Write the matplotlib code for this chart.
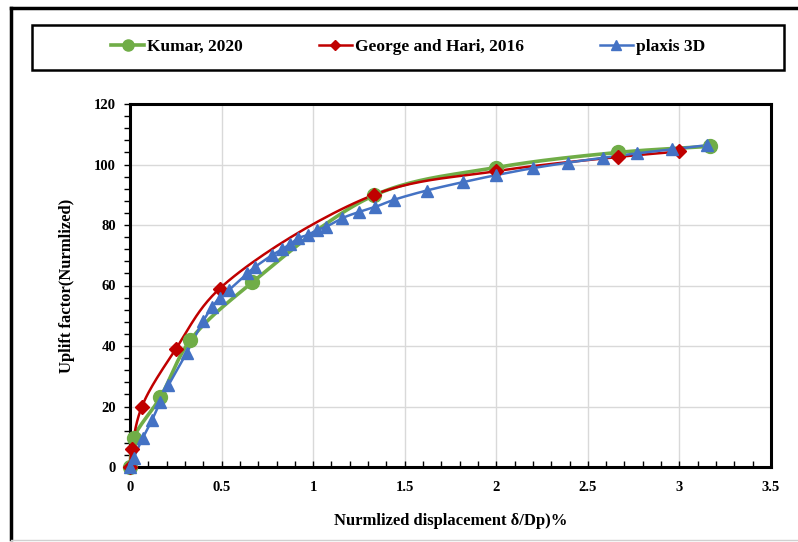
"""
Uplift factor against normalized displacement, three curves
"""

import numpy as np
import matplotlib.pyplot as plt
from matplotlib.lines import Line2D
from matplotlib.patches import Rectangle
from matplotlib.ticker import MultipleLocator

plt.rcParams['font.family'] = ['Liberation Serif', 'DejaVu Serif']
plt.rcParams['font.weight'] = 'bold'

# data
kumar_x = [0.0, 0.02, 0.165, 0.33, 0.667, 1.333, 2.0, 2.667, 3.165]
kumar_y = [0.0, 9.5, 23.0, 42.0, 61.0, 89.8, 99.0, 104.0, 106.0]

george_x = [0.0, 0.01, 0.065, 0.25, 0.49, 1.333, 2.0, 2.667, 3.0]
george_y = [0.0, 6.0, 20.0, 39.0, 59.0, 90.0, 97.8, 102.5, 104.3]

plaxis_x = [0.0, 0.02, 0.07, 0.12, 0.165, 0.21, 0.31, 0.40, 0.45, 0.49, 0.54,
            0.64, 0.68, 0.775, 0.83, 0.875, 0.92, 0.97, 1.02, 1.07, 1.16,
            1.25, 1.34, 1.44, 1.62, 1.82, 2.0, 2.2, 2.39, 2.58, 2.77, 2.96, 3.15]
plaxis_y = [0.0, 3.0, 9.6, 15.5, 21.5, 27.0, 37.8, 48.3, 53.0, 56.0, 58.5,
            64.0, 66.0, 70.0, 72.0, 73.7, 75.7, 76.7, 78.3, 79.4, 82.3,
            84.3, 86.0, 88.3, 91.4, 94.2, 96.5, 98.8, 100.6, 102.2, 103.7, 105.0, 106.4]

labels = ['Kumar, 2020', 'George and Hari, 2016', 'plaxis 3D']


def smooth(xs, ys, steps=24, sx=183.0, sy=3.025):
    """centripetal catmull-rom curve through the points (excel-like smoothing),
    worked out in screen-like units so x and y weigh the same"""
    pts = np.column_stack([np.array(xs) * sx, np.array(ys) * sy]).astype(float)
    first = 2 * pts[0] - pts[1]
    last = 2 * pts[-1] - pts[-2]
    pts = np.vstack([first, pts, last])
    out = []
    for i in range(1, len(pts) - 2):
        p0, p1, p2, p3 = pts[i - 1], pts[i], pts[i + 1], pts[i + 2]
        t0 = 0.0
        t1 = t0 + max(np.linalg.norm(p1 - p0), 1e-6) ** 0.5
        t2 = t1 + max(np.linalg.norm(p2 - p1), 1e-6) ** 0.5
        t3 = t2 + max(np.linalg.norm(p3 - p2), 1e-6) ** 0.5
        for t in np.linspace(t1, t2, steps, endpoint=False):
            a1 = (t1 - t) / (t1 - t0) * p0 + (t - t0) / (t1 - t0) * p1
            a2 = (t2 - t) / (t2 - t1) * p1 + (t - t1) / (t2 - t1) * p2
            a3 = (t3 - t) / (t3 - t2) * p2 + (t - t2) / (t3 - t2) * p3
            b1 = (t2 - t) / (t2 - t0) * a1 + (t - t0) / (t2 - t0) * a2
            b2 = (t3 - t) / (t3 - t1) * a2 + (t - t1) / (t3 - t1) * a3
            out.append((t2 - t) / (t2 - t1) * b1 + (t - t1) / (t2 - t1) * b2)
    out.append(pts[-2])
    out = np.array(out)
    return out[:, 0] / sx, out[:, 1] / sy


fig = plt.figure(figsize=(7.98, 5.42), dpi=100)
ax = fig.add_axes([130 / 798, 75 / 542, 641 / 798, 363 / 542])

series = [
    (kumar_x, kumar_y, '#70AD47', 'o', 10, 2.6),
    (george_x, george_y, '#C00000', 'D', 7, 1.8),
    (plaxis_x, plaxis_y, '#4472C4', '^', 9, 1.8),
]
handles = []
for (xs, ys, col, mk, ms, lw), lab in zip(series, labels):
    cx, cy = smooth(xs, ys)
    ax.plot(cx, cy, color=col, lw=lw, zorder=3, clip_on=False)
    ax.plot(xs, ys, ls='none', marker=mk, ms=ms, color=col, zorder=4, clip_on=False)
    handles.append(Line2D([], [], color=col, lw=lw, marker=mk, ms=ms * 0.8))

ax.set_xlim(0, 3.5)
ax.set_ylim(0, 120)
ax.xaxis.set_minor_locator(MultipleLocator(0.1))
ax.yaxis.set_major_locator(MultipleLocator(20))
ax.yaxis.set_minor_locator(MultipleLocator(4))
ax.set_xticks([0, 0.5, 1, 1.5, 2, 2.5, 3, 3.5])
ax.set_xticklabels(['0', '0.5', '1', '1.5', '2', '2.5', '3', '3.5'])
ax.grid(True, which='major', color='#d9d9d9', lw=1)
ax.set_axisbelow(True)
ax.tick_params(axis='x', which='both', direction='in', length=4, width=1, pad=10, labelsize=10.5)
ax.tick_params(axis='y', which='both', direction='out', length=4, width=1, pad=6, labelsize=10.5)
for sp in ax.spines.values():
    sp.set_linewidth(2.2)
    sp.set_color('black')

ax.set_xlabel('Nurmlized displacement δ/Dp)%', fontsize=12, fontweight='bold', labelpad=14)
ax.set_ylabel('Uplift factor(Nurmlized)', fontsize=12, fontweight='bold', labelpad=14)

# legend box on top
fig.add_artist(Rectangle((32 / 798, 1 - 70 / 542), 752 / 798, 45 / 542,
                         transform=fig.transFigure, fill=False, ec='black', lw=1.8))
fig.legend(handles, labels, loc='center', bbox_to_anchor=(408 / 798, 1 - 47 / 542),
           ncol=3, frameon=False, handlelength=1.9, handletextpad=0.15,
           columnspacing=4.4, prop={'weight': 'bold', 'size': 12.5})

# outer frame of the picture
fig.add_artist(Line2D([11 / 798, 11 / 798], [0.005, 1 - 8 / 542], transform=fig.transFigure,
                      color='black', lw=2.5))
fig.add_artist(Line2D([11 / 798, 1.0], [1 - 8 / 542, 1 - 8 / 542], transform=fig.transFigure,
                      color='black', lw=2.5))
fig.add_artist(Line2D([11 / 798, 1.0], [2 / 542, 2 / 542], transform=fig.transFigure,
                      color='#d0d0d0', lw=1))

fig.savefig('out.png', dpi=100)
